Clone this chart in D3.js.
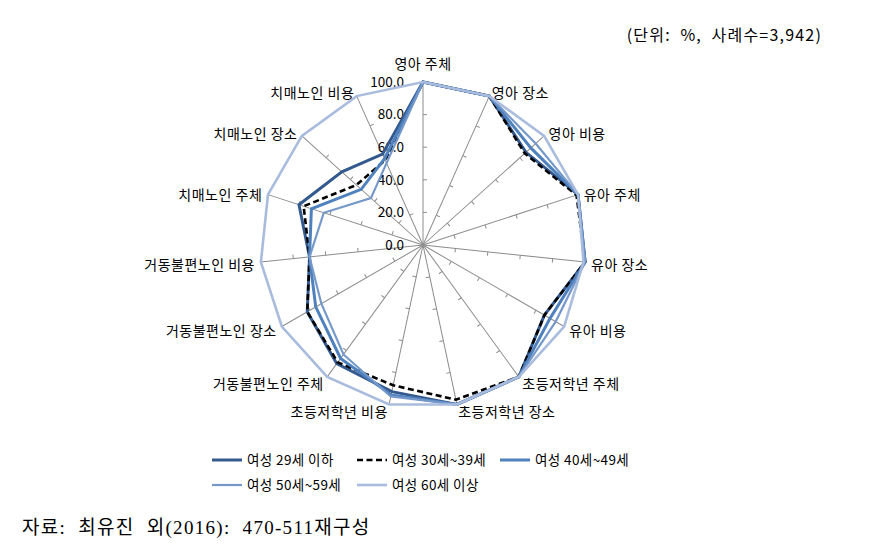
<!DOCTYPE html>
<html>
<head>
<meta charset="utf-8">
<script src="https://cdn.jsdelivr.net/npm/d3@7"></script>
<style>
    body { margin: 0; background: #fff; }
    text { font-family: "Noto Sans CJK KR", "Noto Sans", sans-serif; fill: #000; white-space: pre; }
</style>
</head>
<body>
<script>
// 항목
const categories = [
    '영아 주체', '영아 장소', '영아 비용',
    '유아 주체', '유아 장소', '유아 비용',
    '초등저학년 주체', '초등저학년 장소', '초등저학년 비용',
    '거동불편노인 주체', '거동불편노인 장소', '거동불편노인 비용',
    '치매노인 주체', '치매노인 장소', '치매노인 비용'
];

// 계열 이름
const seriesNames = ['여성 29세 이하', '여성 30세~39세', '여성 40세~49세', '여성 50세~59세', '여성 60세 이상'];

// 계열 값 (%)
const age29 = [100, 100, 85, 100, 100, 86, 100, 100, 92, 90, 82, 70, 80, 67, 61];
const age30 = [100, 100, 84, 99, 100, 86, 100, 97, 88, 89, 82, 70, 77, 55, 57];
const age40 = [100, 100, 89, 100, 100, 90, 100, 100, 94, 86, 76, 70, 72, 51, 58];
const age50 = [100, 100, 93, 100, 100, 94, 100, 100, 95, 83, 72, 70, 64, 43, 55];
const age60 = [100, 100, 100, 100, 99, 100, 100, 100, 100, 100, 100, 100, 100, 100, 100];

// 축 눈금
const tickValues = [0, 20, 40, 60, 80, 100];

const width = 871;
const height = 547;
const cx = 423;
const cy = 245;
const radius = 163;

const styles = [
    {color: '#34598e', width: 3, dash: null},
    {color: '#000000', width: 2.6, dash: '6,3.5'},
    {color: '#4f81bd', width: 3, dash: null},
    {color: '#7598cb', width: 2.2, dash: null},
    {color: '#a9bcdd', width: 2.6, dash: null}
];

const seriesList = [age29, age30, age40, age50, age60];

const svg = d3.select('body')
    .append('svg')
    .attr('width', width)
    .attr('height', height);

const r = d3.scaleLinear().domain([0, 100]).range([0, radius]);
const angle = d3.scaleLinear().domain([0, categories.length]).range([0, 2 * Math.PI]);

const g = svg.append('g').attr('transform', `translate(${cx},${cy})`);

// 축선
const spokes = g.selectAll('g.spoke')
    .data(categories)
    .enter()
    .append('g')
    .attr('class', 'spoke')
    .attr('transform', (d, i) => `rotate(${angle(i) * 180 / Math.PI})`);

spokes.append('line')
    .attr('x1', 0).attr('y1', 0)
    .attr('x2', 0).attr('y2', -r(100))
    .attr('stroke', '#8c8c8c')
    .attr('stroke-width', 1);

spokes.selectAll('line.tick')
    .data(tickValues.slice(1, -1))
    .enter()
    .append('line')
    .attr('class', 'tick')
    .attr('x1', 0).attr('x2', 4)
    .attr('y1', d => -r(d)).attr('y2', d => -r(d))
    .attr('stroke', '#8c8c8c')
    .attr('stroke-width', 1);

// 눈금 라벨
g.selectAll('text.tickLabel')
    .data(tickValues)
    .enter()
    .append('text')
    .attr('class', 'tickLabel')
    .attr('x', -19)
    .attr('y', d => -r(d))
    .attr('dy', '0.35em')
    .attr('text-anchor', 'end')
    .attr('font-size', '13.5px')
    .text(d3.format('.1f'));

// 항목 라벨
g.selectAll('text.catLabel')
    .data(categories)
    .enter()
    .append('text')
    .attr('class', 'catLabel')
    .attr('font-size', '14px')
    .attr('letter-spacing', '0.5px')
    .attr('x', (d, i) => Math.sin(angle(i)) * (radius + 6))
    .attr('y', (d, i) => {
        const c = Math.cos(angle(i));
        return -c * (radius + 6) + (c > 0.95 ? -12 : 2);
    })
    .attr('dy', '0.35em')
    .attr('text-anchor', (d, i) => {
        const s = Math.sin(angle(i));
        return s > 0.1 ? 'start' : (s < -0.1 ? 'end' : 'middle');
    })
    .text(d => d);

// 계열 선
const line = d3.lineRadial()
    .angle((d, i) => angle(i))
    .radius(d => r(d))
    .curve(d3.curveLinearClosed);

g.selectAll('path.series')
    .data(seriesList)
    .enter()
    .append('path')
    .attr('class', 'series')
    .attr('d', line)
    .attr('fill', 'none')
    .attr('stroke', (d, i) => styles[i].color)
    .attr('stroke-width', (d, i) => styles[i].width)
    .attr('stroke-dasharray', (d, i) => styles[i].dash)
    .attr('stroke-linejoin', 'miter');

// 범례
const legendPos = [[212, 460], [357, 460], [500, 460], [212, 485], [357, 485]];
const legend = svg.selectAll('g.legend')
    .data(seriesNames)
    .enter()
    .append('g')
    .attr('class', 'legend')
    .attr('transform', (d, i) => `translate(${legendPos[i][0]},${legendPos[i][1]})`);

legend.append('line')
    .attr('x1', 0).attr('x2', 30)
    .attr('y1', 0).attr('y2', 0)
    .attr('stroke', (d, i) => styles[i].color)
    .attr('stroke-width', (d, i) => styles[i].width)
    .attr('stroke-dasharray', (d, i) => styles[i].dash);

legend.append('text')
    .attr('x', 35)
    .attr('y', 0)
    .attr('dy', '0.35em')
    .attr('font-size', '13.5px')
    .attr('letter-spacing', '0.4px')
    .text(d => d);

// 단위
svg.append('text')
    .attr('x', 822)
    .attr('y', 35)
    .attr('dy', '0.35em')
    .attr('text-anchor', 'end')
    .attr('font-size', '16px')
    .attr('letter-spacing', '1.2px')
    .text('(단위:  %,  사례수=3,942)');

// 자료
svg.append('text')
    .attr('x', 22)
    .attr('y', 527)
    .attr('dy', '0.35em')
    .attr('font-size', '19px')
    .attr('letter-spacing', '1.3px')
    .style('font-family', '"Liberation Serif", "Noto Sans CJK KR", serif')
    .text('자료:  최유진  외(2016):  470-511재구성');
</script>
</body>
</html>
